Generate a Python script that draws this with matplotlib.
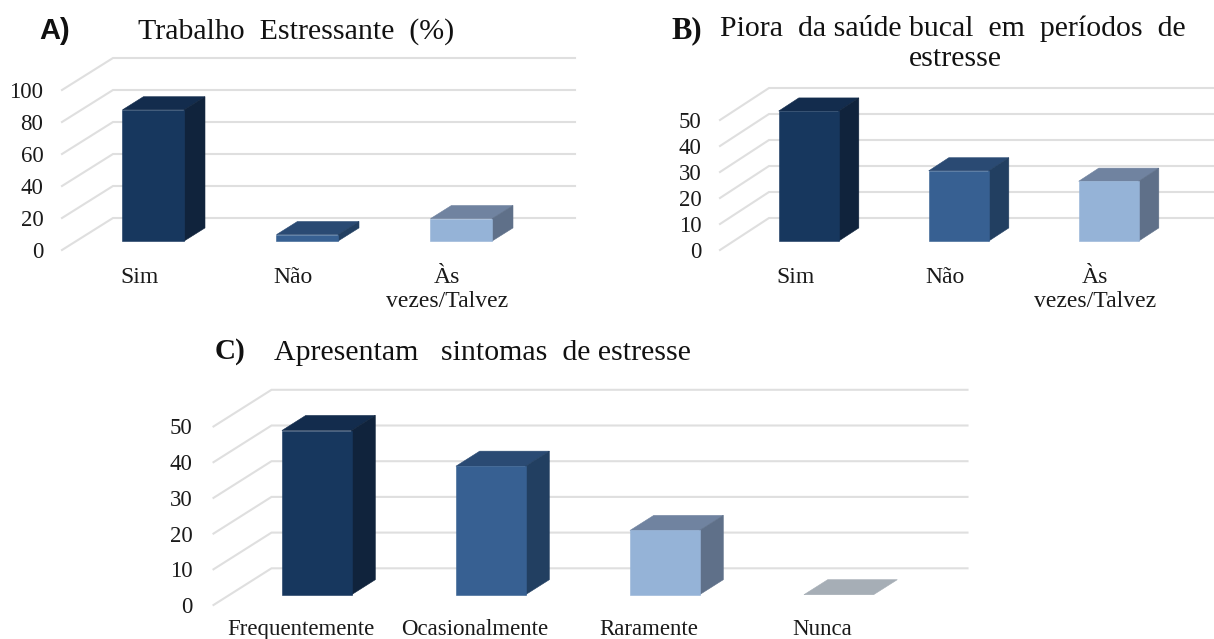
import matplotlib
matplotlib.use("Agg")
import matplotlib.pyplot as plt
from matplotlib.patches import Polygon

plt.rcParams['font.family'] = ['Liberation Serif', 'DejaVu Serif']

W, H = 1214, 639

cats_a = ["Sim", "Não", "Às\nvezes/Talvez"]
vals_a = [82, 4, 14]
ticks_a = [0, 20, 40, 60, 80, 100]

cats_b = ["Sim", "Não", "Às\nvezes/Talvez"]
vals_b = [50, 27, 23]
ticks_b = [0, 10, 20, 30, 40, 50]

cats_c = ["Frequentemente", "Ocasionalmente", "Raramente", "Nunca"]
vals_c = [46, 36, 18, 0]
ticks_c = [0, 10, 20, 30, 40, 50]

FRONT = ["#17375e", "#376092", "#95b3d7", "#a6aeb6"]
SIDE = ["#10233c", "#223f61", "#5f7089", "#a6aeb6"]
TOP = ["#132c4d", "#2a4a73", "#7083a0", "#a6aeb6"]
GRID = "#dfdfdf"


def chart(cats, vals, ticks, left, right, y0, ytop, dx_px, dy_px, bar_frac,
          pad_y, pad_x, fs):
    ax = fig.add_axes([left / W, 1 - y0 / H, (right - left) / W, (y0 - ytop) / H])
    ax.set_xlim(-0.5, len(cats) - 0.5)
    ax.set_ylim(ticks[0], ticks[-1])
    ax.patch.set_alpha(0)
    for s in ax.spines.values():
        s.set_visible(False)
    xu = (right - left) / len(cats)
    yu = (y0 - ytop) / ticks[-1]
    Dx, Dy = dx_px / xu, dy_px / yu
    xmin, xmax = ax.get_xlim()
    for t in ticks:
        ax.plot([xmin, xmin + Dx, xmax + Dx], [t, t + Dy, t + Dy], color=GRID,
                lw=1.5, clip_on=False, zorder=1, solid_joinstyle="miter")
    d0, d1 = 0.28, 0.41
    for i, v in enumerate(vals):
        xl = i - bar_frac / 2 + d0 * Dx
        xr = xl + bar_frac
        yb = d0 * Dy
        ox, oy = d1 * Dx, d1 * Dy
        ax.add_patch(Polygon([(xl, yb + v), (xr, yb + v), (xr + ox, yb + v + oy),
                              (xl + ox, yb + v + oy)], fc=TOP[i], ec=TOP[i], lw=0.4,
                             clip_on=False, zorder=3))
        if v > 0:
            ax.add_patch(Polygon([(xr, yb), (xr + ox, yb + oy), (xr + ox, yb + v + oy),
                                  (xr, yb + v)], fc=SIDE[i], ec=SIDE[i], lw=0.4,
                                 clip_on=False, zorder=3))
            ax.bar(i + d0 * Dx, v, bar_frac, bottom=yb, color=FRONT[i], ec=FRONT[i],
                   lw=0.4, zorder=4, clip_on=False)
    ax.set_xticks(range(len(cats)))
    ax.set_xticklabels(cats, fontsize=fs, color="#1a1a1a", linespacing=1.15)
    ax.set_yticks(ticks)
    ax.set_yticklabels([str(t) for t in ticks], fontsize=16.5, color="#1a1a1a")
    ax.tick_params(axis="both", length=0)
    ax.tick_params(axis="y", pad=pad_y)
    ax.tick_params(axis="x", pad=pad_x)
    return ax


fig = plt.figure(figsize=(W / 100, H / 100), dpi=100, facecolor="white")

chart(cats_a, vals_a, ticks_a, 62, 524, 250, 90, 51, 32, 0.40, 13.5, 12.5, 17)
chart(cats_b, vals_b, ticks_b, 720, 1170, 250, 120, 49, 32, 0.40, 13.5, 12.5, 17)
chart(cats_c, vals_c, ticks_c, 213.5, 909.5, 605, 426.5, 58, 36.7, 0.40, 15, 10, 16.5)


def label(x, y, s, ha="left", **kw):
    fig.text(x / W, 1 - y / H, s, ha=ha, va="center", color="#111111", **kw)


label(39, 31, "A)", fontsize=21, fontweight="bold", family=["Liberation Sans"])
label(138, 32, "Trabalho  Estressante  (%)", fontsize=21.5)
label(671, 31, "B)", fontsize=22, fontweight="bold")
label(720, 29, "Piora  da saúde bucal  em  períodos  de", fontsize=21.5)
label(955, 59, "estresse", ha="center", fontsize=21.5)
label(215, 351, "C)", fontsize=21, fontweight="bold")
label(274, 353, "Apresentam   sintomas  de estresse", fontsize=21.5)

fig.savefig("out.png", dpi=100)
